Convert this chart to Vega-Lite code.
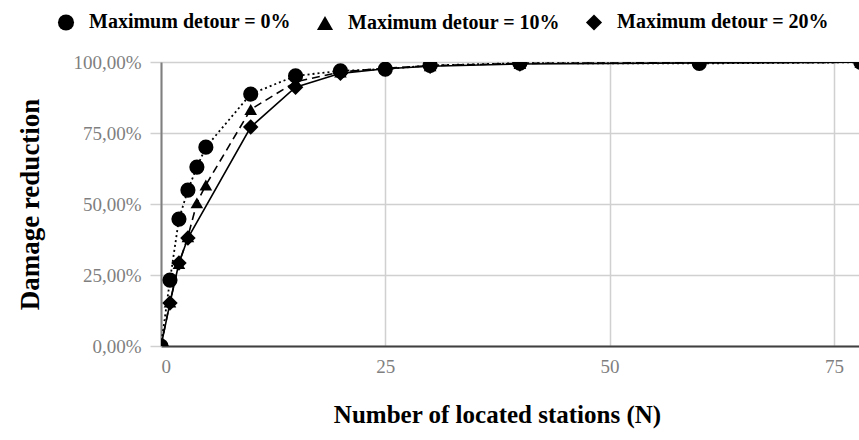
{
  "$schema": "https://vega.github.io/schema/vega-lite/v6.json",
  "width": 698,
  "height": 284,
  "autosize": "none",
  "padding": {"left": 161, "top": 62, "right": 0, "bottom": 94},
  "background": "white",
  "config": {"view": {"stroke": null}, "font": "Liberation Serif"},
  "data": {
    "values": [
      {"N": 0, "series": "Maximum detour = 0%", "reduction": 0},
      {"N": 1, "series": "Maximum detour = 0%", "reduction": 0.232},
      {"N": 2, "series": "Maximum detour = 0%", "reduction": 0.447},
      {"N": 3, "series": "Maximum detour = 0%", "reduction": 0.549},
      {"N": 4, "series": "Maximum detour = 0%", "reduction": 0.63},
      {"N": 5, "series": "Maximum detour = 0%", "reduction": 0.7},
      {"N": 10, "series": "Maximum detour = 0%", "reduction": 0.887},
      {"N": 15, "series": "Maximum detour = 0%", "reduction": 0.951},
      {"N": 20, "series": "Maximum detour = 0%", "reduction": 0.969},
      {"N": 25, "series": "Maximum detour = 0%", "reduction": 0.975},
      {"N": 30, "series": "Maximum detour = 0%", "reduction": 0.988},
      {"N": 40, "series": "Maximum detour = 0%", "reduction": 0.996},
      {"N": 60, "series": "Maximum detour = 0%", "reduction": 0.995},
      {"N": 78, "series": "Maximum detour = 0%", "reduction": 0.999},
      {"N": 0, "series": "Maximum detour = 10%", "reduction": 0},
      {"N": 1, "series": "Maximum detour = 10%", "reduction": 0.155},
      {"N": 2, "series": "Maximum detour = 10%", "reduction": 0.29},
      {"N": 3, "series": "Maximum detour = 10%", "reduction": 0.385},
      {"N": 4, "series": "Maximum detour = 10%", "reduction": 0.504},
      {"N": 5, "series": "Maximum detour = 10%", "reduction": 0.567},
      {"N": 10, "series": "Maximum detour = 10%", "reduction": 0.833},
      {"N": 15, "series": "Maximum detour = 10%", "reduction": 0.93},
      {"N": 20, "series": "Maximum detour = 10%", "reduction": 0.965},
      {"N": 25, "series": "Maximum detour = 10%", "reduction": 0.978},
      {"N": 30, "series": "Maximum detour = 10%", "reduction": 0.987},
      {"N": 40, "series": "Maximum detour = 10%", "reduction": 0.995},
      {"N": 60, "series": "Maximum detour = 10%", "reduction": 0.998},
      {"N": 78, "series": "Maximum detour = 10%", "reduction": 0.999},
      {"N": 0, "series": "Maximum detour = 20%", "reduction": 0},
      {"N": 1, "series": "Maximum detour = 20%", "reduction": 0.151},
      {"N": 2, "series": "Maximum detour = 20%", "reduction": 0.292},
      {"N": 3, "series": "Maximum detour = 20%", "reduction": 0.38},
      {"N": 10, "series": "Maximum detour = 20%", "reduction": 0.771},
      {"N": 15, "series": "Maximum detour = 20%", "reduction": 0.911},
      {"N": 20, "series": "Maximum detour = 20%", "reduction": 0.96},
      {"N": 25, "series": "Maximum detour = 20%", "reduction": 0.976},
      {"N": 30, "series": "Maximum detour = 20%", "reduction": 0.985},
      {"N": 40, "series": "Maximum detour = 20%", "reduction": 0.993},
      {"N": 60, "series": "Maximum detour = 20%", "reduction": 0.997},
      {"N": 78, "series": "Maximum detour = 20%", "reduction": 0.999}
    ]
  },
  "encoding": {
    "x": {
      "field": "N",
      "type": "quantitative",
      "scale": {"domain": [0, 77.8], "nice": false, "zero": true},
      "axis": {
        "values": [0, 25, 50, 75],
        "format": "d",
        "labelFont": "Liberation Serif",
        "labelFontSize": 19,
        "labelColor": "#7f7f7f",
        "labelPadding": 11,
        "tickSize": 0,
        "domainColor": "#404040",
        "domainWidth": 2,
        "grid": true,
        "gridColor": "#d0d0d0",
        "gridWidth": 1.5,
        "title": "Number of located stations (N)",
        "titleFont": "Liberation Serif",
        "titleFontSize": 25,
        "titleFontWeight": "bold",
        "titleColor": "black",
        "titleX": 336,
        "titleY": 68,
        "titleAlign": "center",
        "titleBaseline": "middle"
      }
    },
    "y": {
      "field": "reduction",
      "type": "quantitative",
      "scale": {"domain": [0, 1], "nice": false},
      "axis": {
        "values": [0, 0.25, 0.5, 0.75, 1],
        "labelExpr": "replace(format(datum.value, '.2%'), '.', ',')",
        "labelFont": "Liberation Serif",
        "labelFontSize": 19,
        "labelColor": "#7f7f7f",
        "labelPadding": 9,
        "tickSize": 11,
        "tickColor": "#d0d0d0",
        "tickWidth": 1.5,
        "domainColor": "#7f7f7f",
        "domainWidth": 2,
        "grid": true,
        "gridColor": "#d0d0d0",
        "gridWidth": 1.5,
        "title": "Damage reduction",
        "titleFont": "Liberation Serif",
        "titleFontSize": 27,
        "titleFontWeight": "bold",
        "titleColor": "black",
        "titleX": -131,
        "titleY": 142,
        "titleAlign": "center",
        "titleBaseline": "middle",
        "titleAngle": -90
      }
    }
  },
  "layer": [
    {
      "transform": [{"filter": "datum.series === 'Maximum detour = 20%'"}],
      "mark": {"type": "line", "color": "black", "strokeWidth": 1.6, "clip": true},
      "encoding": {}
    },
    {
      "transform": [{"filter": "datum.series === 'Maximum detour = 10%'"}],
      "mark": {"type": "line", "color": "black", "strokeWidth": 1.6, "strokeDash": [8, 5], "clip": true},
      "encoding": {}
    },
    {
      "transform": [{"filter": "datum.series === 'Maximum detour = 0%'"}],
      "mark": {"type": "line", "color": "black", "strokeWidth": 1.8, "strokeDash": [2, 3], "clip": true},
      "encoding": {}
    },
    {
      "transform": [{"filter": "datum.series === 'Maximum detour = 0%'"}],
      "mark": {"type": "point", "filled": true, "color": "black", "opacity": 1, "clip": true, "size": 230},
      "encoding": {
        "shape": {"field": "series", "type": "nominal", "scale": {"domain": ["Maximum detour = 0%", "Maximum detour = 10%", "Maximum detour = 20%"], "range": ["circle", "triangle-up", "diamond"]}}
      }
    },
    {
      "transform": [{"filter": "datum.series === 'Maximum detour = 10%'"}],
      "mark": {"type": "point", "filled": true, "color": "black", "opacity": 1, "clip": true, "size": 160},
      "encoding": {
        "shape": {"field": "series", "type": "nominal", "scale": {"domain": ["Maximum detour = 0%", "Maximum detour = 10%", "Maximum detour = 20%"], "range": ["circle", "triangle-up", "diamond"]}}
      }
    },
    {
      "transform": [{"filter": "datum.series === 'Maximum detour = 20%'"}],
      "mark": {"type": "point", "filled": true, "color": "black", "opacity": 1, "clip": true, "size": 240},
      "encoding": {
        "shape": {
          "field": "series",
          "type": "nominal",
          "scale": {"domain": ["Maximum detour = 0%", "Maximum detour = 10%", "Maximum detour = 20%"], "range": ["circle", "triangle-up", "diamond"]},
          "legend": {
            "orient": "none",
            "legendX": -105,
            "legendY": -50,
            "direction": "horizontal",
            "title": null,
            "padding": 0,
            "labelFont": "Liberation Serif",
            "labelFontSize": 20,
            "labelFontWeight": "bold",
            "labelColor": "black",
            "labelLimit": 500,
            "labelOffset": 13,
            "symbolSize": 260,
            "symbolFillColor": "black",
            "symbolStrokeColor": "black",
            "symbolOpacity": 1,
            "columnPadding": 22
          }
        }
      }
    }
  ]
}
